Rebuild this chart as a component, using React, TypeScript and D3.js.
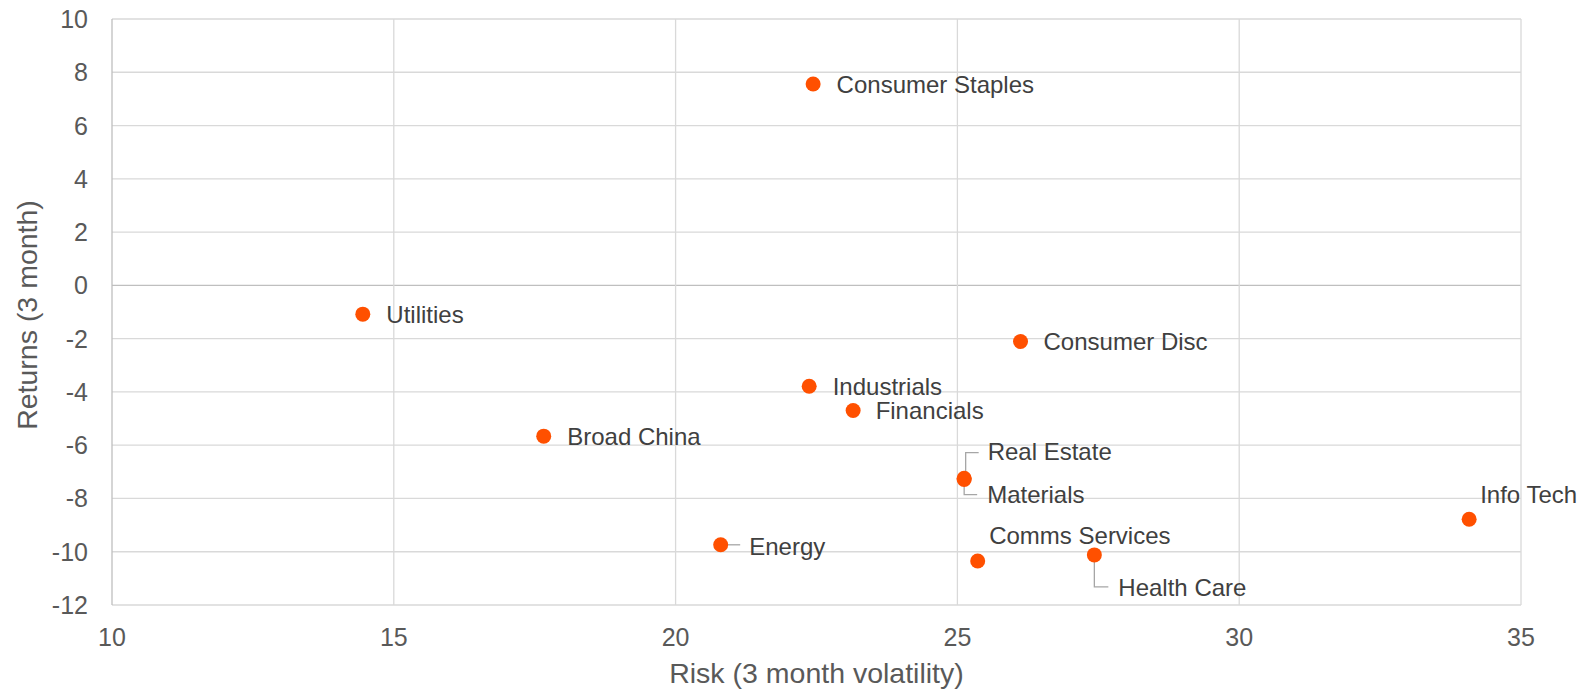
import React from "react";
import * as d3 from "d3";

const sectors = [
  "Consumer Staples",
  "Utilities",
  "Consumer Disc",
  "Industrials",
  "Financials",
  "Broad China",
  "Real Estate",
  "Materials",
  "Comms Services",
  "Health Care",
  "Energy",
  "Info Tech",
];
const risk = [22.44, 14.45, 26.12, 22.37, 23.15, 17.66, 25.12, 25.12, 25.36, 27.43, 20.8, 34.08];
const returns = [7.56, -1.08, -2.11, -3.79, -4.7, -5.66, -7.24, -7.29, -10.35, -10.12, -9.74, -8.78];
const xTicks = [10, 15, 20, 25, 30, 35];
const yTicks = [10, 8, 6, 4, 2, 0, -2, -4, -6, -8, -10, -12];

// label layout (offsets from the point, in px) — presentation only
type Lay = { dx: number; dy: number; leader?: "up" | "down" | "right" };
const layout: Record<string, Lay> = {
  "Consumer Staples": { dx: 23.5, dy: 0 },
  Utilities: { dx: 23.5, dy: 0 },
  "Consumer Disc": { dx: 23, dy: 0 },
  Industrials: { dx: 23.5, dy: 0 },
  Financials: { dx: 22.5, dy: 0 },
  "Broad China": { dx: 23.5, dy: 0 },
  "Real Estate": { dx: 23.5, dy: -26.5, leader: "up" },
  Materials: { dx: 23, dy: 15, leader: "down" },
  "Comms Services": { dx: 11.5, dy: -26 },
  "Health Care": { dx: 24, dy: 32, leader: "down" },
  Energy: { dx: 28.5, dy: 1.5, leader: "right" },
  "Info Tech": { dx: 11, dy: -24.5 },
};

const W = 1594;
const H = 695;
const M = { left: 112, right: 1521, top: 19, bottom: 605 };
const FONT = "'Liberation Sans', Arial, sans-serif";

export default function App() {
  const x = d3.scaleLinear().domain([10, 35]).range([M.left, M.right]);
  const y = d3.scaleLinear().domain([-12, 10]).range([M.bottom, M.top]);

  return (
    <svg
      width={W}
      height={H}
      style={{ position: "fixed", left: 0, top: 0, background: "#fff" }}
      fontFamily={FONT}
    >
      <rect x={0} y={0} width={W} height={H} fill="#fff" />
      {/* gridlines */}
      {yTicks.map((t) => (
        <line
          key={"gy" + t}
          x1={M.left}
          x2={M.right}
          y1={y(t)}
          y2={y(t)}
          stroke={t === 0 ? "#bfbfbf" : "#d9d9d9"}
          strokeWidth={1.3}
        />
      ))}
      {xTicks.map((t) => (
        <line
          key={"gx" + t}
          x1={x(t)}
          x2={x(t)}
          y1={M.top}
          y2={M.bottom}
          stroke={t === 10 ? "#bfbfbf" : "#d9d9d9"}
          strokeWidth={1.3}
        />
      ))}
      {/* tick labels */}
      {yTicks.map((t) => (
        <text
          key={"ty" + t}
          x={88}
          y={y(t)}
          dy="0.36em"
          textAnchor="end"
          fontSize={25}
          fill="#595959"
        >
          {t}
        </text>
      ))}
      {xTicks.map((t) => (
        <text key={"tx" + t} x={x(t)} y={646} textAnchor="middle" fontSize={25} fill="#595959">
          {t}
        </text>
      ))}
      {/* axis titles */}
      <text x={(M.left + M.right) / 2} y={683} textAnchor="middle" fontSize={28.5} fill="#595959">
        Risk (3 month volatility)
      </text>
      <text
        transform={`translate(37,${(M.top + M.bottom) / 2 + 3}) rotate(-90)`}
        textAnchor="middle"
        fontSize={28.5}
        fill="#595959"
      >
        Returns (3 month)
      </text>
      {/* leader lines */}
      {sectors.map((s, i) => {
        const l = layout[s];
        if (!l.leader) return null;
        const px = x(risk[i]);
        const py = y(returns[i]);
        let pts: [number, number][] = [];
        if (l.leader === "up") {
          pts = [
            [px + 1.5, py - 6],
            [px + 1.5, py + l.dy + 1],
            [px + l.dx - 9, py + l.dy + 1],
          ];
        } else if (l.leader === "down") {
          pts = [
            [px, py + 6],
            [px, py + l.dy],
            [px + l.dx - 10, py + l.dy],
          ];
        } else {
          pts = [
            [px + 7, py],
            [px + l.dx - 9, py],
          ];
        }
        return (
          <polyline
            key={"ld" + s}
            points={pts.map((p) => p.join(",")).join(" ")}
            fill="none"
            stroke="#a6a6a6"
            strokeWidth={1.3}
          />
        );
      })}
      {/* points */}
      {sectors.map((s, i) => (
        <circle key={"c" + s} cx={x(risk[i])} cy={y(returns[i])} r={7.5} fill="#ff5000" />
      ))}
      {/* labels */}
      {sectors.map((s, i) => {
        const l = layout[s];
        return (
          <text
            key={"l" + s}
            x={x(risk[i]) + l.dx}
            y={y(returns[i]) + l.dy}
            dy="0.36em"
            fontSize={24}
            fill="#404040"
          >
            {s}
          </text>
        );
      })}
    </svg>
  );
}
